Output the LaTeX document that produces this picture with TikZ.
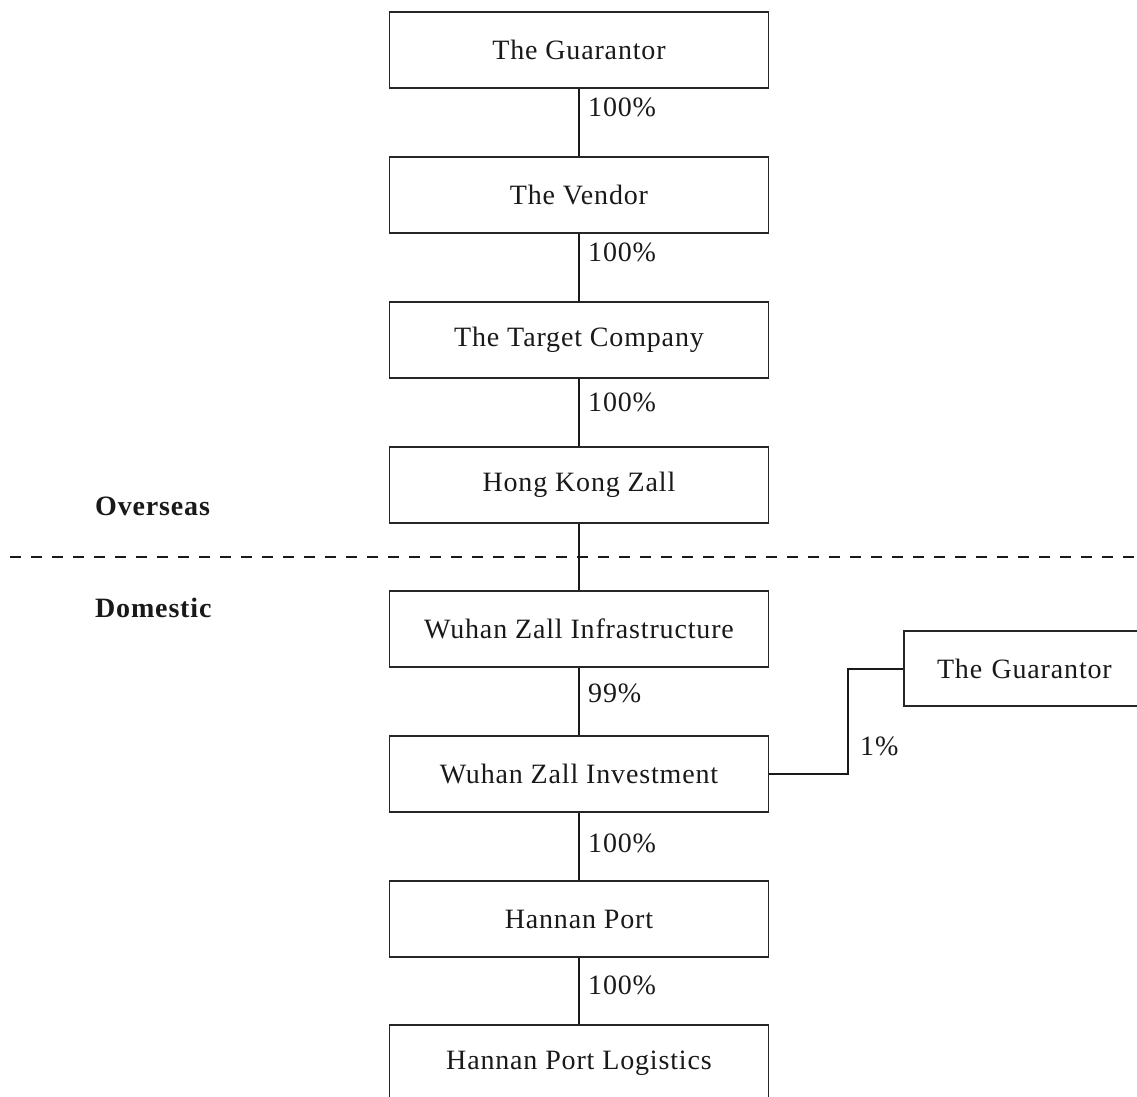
\documentclass[tikz,border=0pt]{standalone}
\usepackage{fontspec}
\setmainfont{Liberation Serif}[LetterSpace=3]
\begin{document}
\begin{tikzpicture}[x=1pt,y=-1pt,
  box/.style={draw=black!85, line width=1.2pt, minimum width=379pt, minimum height=76pt, inner sep=0pt, text=black!90, font=\fontsize{28}{34}\selectfont},
  link/.style={line width=2pt, draw=black!90},
  pct/.style={anchor=west, inner sep=0pt, text=black!90, font=\fontsize{28}{34}\selectfont},
  region/.style={anchor=west, inner sep=0pt, text=black!90, font=\bfseries\fontsize{28}{34}\selectfont}]
\useasboundingbox (0,0) rectangle (1137,1096);
% main column
\node[box] (g1) at (579,50) {The Guarantor};
\node[box] (v) at (579,195) {The Vendor};
\node[box] (t) at (579,340) {The Target Company};
\node[box] (hk) at (579,485) {Hong Kong Zall};
\node[box] (wi) at (579,629) {Wuhan Zall Infrastructure};
\node[box] (inv) at (579,774) {Wuhan Zall Investment};
\node[box] (hp) at (579,919) {Hannan Port};
\node[box] (hpl) at (579,1063) {Hannan Port Logistics};
\node[box, minimum width=242pt, minimum height=75pt, text width=236pt, align=left, inner xsep=0pt] (g2) at (1025,668.5) {\hspace*{30pt}The Guarantor};
% connectors
\draw[link] (g1.south) -- (v.north);
\draw[link] (v.south) -- (t.north);
\draw[link] (t.south) -- (hk.north);
\draw[link] (hk.south) -- (wi.north);
\draw[link] (wi.south) -- (inv.north);
\draw[link] (inv.south) -- (hp.north);
\draw[link] (hp.south) -- (hpl.north);
\draw[link] (inv.east) -- ++(79,0) |- (g2.west);
% percentages
\node[pct] (p1) at (588,107) {100\%};
\node[pct] (p2) at (588,252) {100\%};
\node[pct] (p3) at (588,402) {100\%};
\node[pct] (p4) at (588,693) {99\%};
\node[pct] (p5) at (588,843) {100\%};
\node[pct] (p6) at (588,985) {100\%};
\node[pct] (p7) at (860,746) {1\%};
% divider
\coordinate (dl) at (10,557);
\coordinate (dr) at (1137,557);
\draw[line width=2pt, draw=black!90, dash pattern=on 11pt off 10pt] (dl) -- (dr);
\node[region] (os) at (95,506) {Overseas};
\node[region] (dm) at (95,608) {Domestic};
\end{tikzpicture}
\end{document}
